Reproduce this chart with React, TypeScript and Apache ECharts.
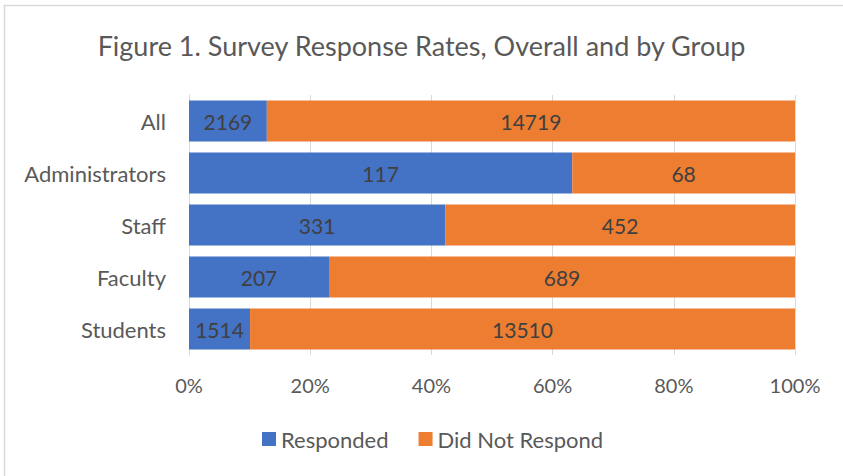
import React, { useEffect, useRef } from "react";
import * as echarts from "echarts";

// Survey counts per group, listed top to bottom
const categories = ["All", "Administrators", "Staff", "Faculty", "Students"];
const responded = [2169, 117, 331, 207, 1514];
const didNotRespond = [14719, 68, 452, 689, 13510];
const xTickLabels = ["0%", "20%", "40%", "60%", "80%", "100%"];

const BLUE = "#4472c4";
const ORANGE = "#ed7d31";
const TEXT = "#595959";
const FONT = "Lato, 'Open Sans', sans-serif";

const share = (part: number[], other: number[]) =>
  part.map((v, i) => (v / (v + other[i])) * 100);

export default function App() {
  const ref = useRef<HTMLDivElement>(null);

  useEffect(() => {
    if (!ref.current) return;
    const chart = echarts.init(ref.current, undefined, { renderer: "svg" });
    const respondedPct = share(responded, didNotRespond);
    const notPct = share(didNotRespond, responded);

    chart.setOption({
      animation: false,
      backgroundColor: "#ffffff",
      textStyle: { fontFamily: FONT },
      title: {
        text: "Figure 1. Survey Response Rates, Overall and by Group",
        left: "center",
        top: 27,
        textStyle: { fontFamily: FONT, fontSize: 27, fontWeight: "normal", color: TEXT },
      },
      graphic: [
        {
          type: "rect",
          shape: { x: 4.5, y: 5.5, width: 860, height: 500 },
          style: { fill: "none", stroke: "#d9d9d9", lineWidth: 1.5 },
          silent: true,
          z: -1,
        },
      ],
      legend: {
        top: 423,
        left: 257,
        itemWidth: 14,
        itemHeight: 14,
        itemGap: 30,
        icon: "rect",
        textStyle: { fontFamily: FONT, fontSize: 22, color: TEXT },
        data: ["Responded", "Did Not Respond"],
      },
      grid: { left: 189, right: 48, top: 95, bottom: 121, containLabel: false },
      xAxis: {
        type: "value",
        min: 0,
        max: 100,
        interval: 20,
        axisLine: { show: false },
        axisTick: { show: false },
        splitLine: { lineStyle: { color: "#d9d9d9", width: 1 } },
        axisLabel: {
          margin: 20,
          fontFamily: FONT,
          fontSize: 20,
          color: TEXT,
          formatter: (v: number) => xTickLabels[Math.round(v / 20)] ?? "",
        },
      },
      yAxis: {
        type: "category",
        inverse: true,
        data: categories,
        axisLine: { show: true, lineStyle: { color: "#d9d9d9", width: 1 } },
        axisTick: { show: false },
        axisLabel: { margin: 23, fontFamily: FONT, fontSize: 22, color: TEXT },
      },
      series: [
        {
          name: "Responded",
          type: "bar",
          stack: "total",
          barWidth: "79%",
          itemStyle: { color: BLUE },
          data: respondedPct,
          label: {
            show: true,
            position: "inside",
            fontFamily: FONT,
            fontSize: 21,
            color: "#404040",
            formatter: (p: any) => String(responded[p.dataIndex]),
          },
        },
        {
          name: "Did Not Respond",
          type: "bar",
          stack: "total",
          barWidth: "79%",
          itemStyle: { color: ORANGE },
          data: notPct,
          label: {
            show: true,
            position: "inside",
            fontFamily: FONT,
            fontSize: 21,
            color: "#404040",
            formatter: (p: any) => String(didNotRespond[p.dataIndex]),
          },
        },
      ],
    });

    return () => chart.dispose();
  }, []);

  return <div ref={ref} style={{ width: 843, height: 476, position: "absolute", left: 0, top: 0 }} />;
}
